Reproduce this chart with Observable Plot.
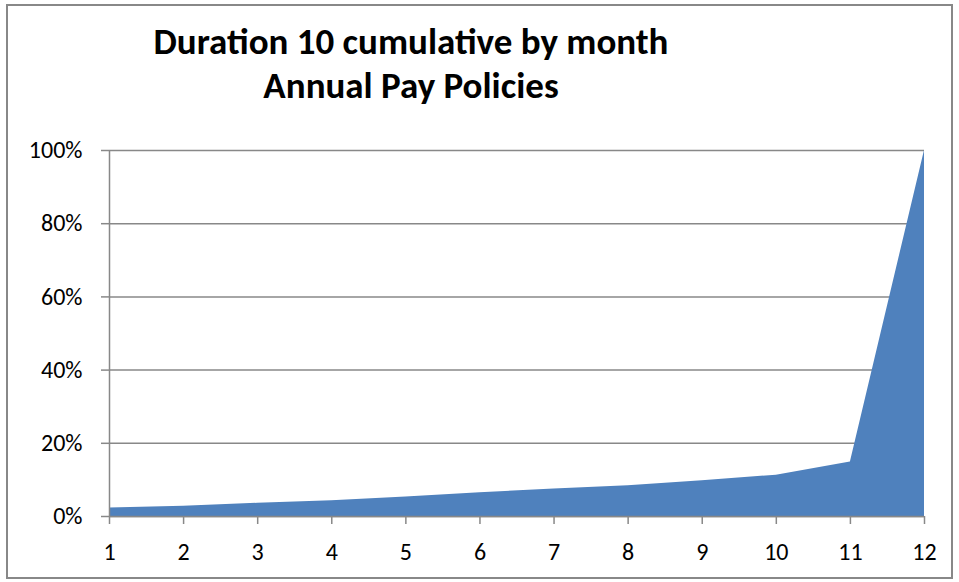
<!DOCTYPE html>
<html>
<head>
<meta charset="utf-8">
<script src="https://cdn.jsdelivr.net/npm/d3@7"></script>
<script src="https://cdn.jsdelivr.net/npm/@observablehq/plot@0.6"></script>
<style>
  html, body { margin: 0; padding: 0; background: #fff; }
  #wrap { position: relative; width: 959px; height: 582px; overflow: hidden; font-family: Carlito, Lato, "Open Sans", sans-serif; }
  #border { position: absolute; left: 6px; top: 4px; width: 947px; height: 575px; border: 2px solid #888; box-sizing: border-box; }
  .title { position: absolute; left: 61px; width: 700px; text-align: center; font-weight: bold; font-size: 37px; line-height: 37px; color: #000; white-space: nowrap; }
  #t1 { top: 23px; }
  #t2 { top: 67px; }
  #chart { position: absolute; left: 0; top: 0; }
  #chart svg text { font-size: 24px !important; fill: #000; }
</style>
</head>
<body>
<div id="wrap">
  <div id="border"></div>
  <div class="title" id="t1">Duration 10 cumulative by month</div>
  <div class="title" id="t2">Annual Pay Policies</div>
  <div id="chart"></div>
</div>
<script>
const months = [1, 2, 3, 4, 5, 6, 7, 8, 9, 10, 11, 12];
const cumulative = [0.023, 0.028, 0.036, 0.043, 0.053, 0.065, 0.075, 0.084, 0.098, 0.113, 0.149, 1.0];
const yTicks = [0, 0.2, 0.4, 0.6, 0.8, 1.0];

const data = months.map((m, i) => ({month: m, value: cumulative[i]}));
const pct = d => Math.round(d * 100) + "%";

const chart = Plot.plot({
  width: 959,
  height: 582,
  marginTop: 150,
  marginBottom: 66,
  marginLeft: 109,
  marginRight: 35,
  style: {fontFamily: "Carlito, Lato, 'Open Sans', sans-serif", fontSize: "24px", color: "#000", background: "transparent"},
  x: {domain: [1, 12], label: null},
  y: {domain: [0, 1], label: null},
  marks: [
    Plot.gridY(yTicks, {stroke: "#888", strokeOpacity: 1, strokeWidth: 1.5}),
    Plot.areaY(data, {x: "month", y: "value", fill: "#4F81BD"}),
    Plot.ruleX([1], {stroke: "#888", strokeWidth: 1.5}),
    Plot.ruleY([0], {stroke: "#888", strokeWidth: 1.5}),
    Plot.axisX({ticks: months, tickFormat: d => String(d), tickSize: 8, tickPadding: 18, stroke: "#888", strokeWidth: 1.5, strokeOpacity: 1, fontSize: 24, label: null}),
    Plot.axisY({ticks: yTicks, tickFormat: pct, tickSize: 8, tickPadding: 19, stroke: "#888", strokeWidth: 1.5, strokeOpacity: 1, fontSize: 24, label: null})
  ]
});
document.getElementById("chart").appendChild(chart);
</script>
</body>
</html>
